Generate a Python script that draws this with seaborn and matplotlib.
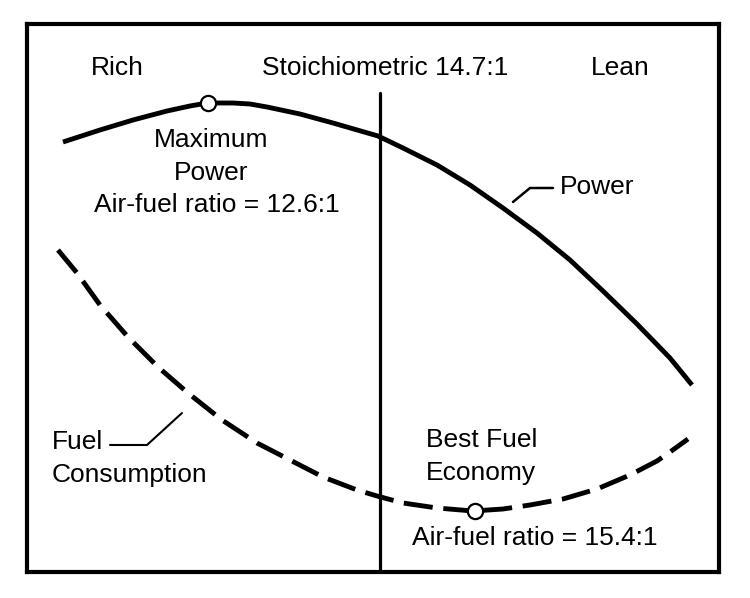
import matplotlib
matplotlib.use("Agg")
import matplotlib.pyplot as plt
import seaborn as sns
import pandas as pd

# Curve values (chart units: x to the right, y measured downward from top of frame)
power_x = [63, 100, 133, 167, 190, 207, 233, 250, 267, 300, 333, 378, 403, 437, 470, 503, 537, 570, 603, 637, 670, 692]
power_y = [142, 130, 120, 111, 106, 103, 103, 104, 107, 114, 123, 136, 148, 165, 185, 208, 233, 260, 291, 324, 358, 385]

fuel_x = [58, 77, 100, 128, 158, 188, 222, 257, 290, 323, 357, 377, 403, 437, 473, 503, 530, 563, 597, 630, 657, 670, 688]
fuel_y = [250, 273, 305, 337, 367, 393, 420, 443, 460, 477, 490, 496, 503, 508, 511, 509, 505, 499, 489, 475, 461, 452, 439]

# Highlighted points
max_power = (208, 103)
best_economy = (475, 511)
stoich_x = 380

region_labels = ["Rich", "Stoichiometric 14.7:1", "Lean"]
region_x = [117, 385, 620]

sns.set_style("white")
plt.rcParams["font.family"] = ["Liberation Sans", "DejaVu Sans"]
plt.rcParams["text.color"] = "black"

fig = plt.figure(figsize=(7.5, 5.98), dpi=100)
ax = fig.add_axes([27 / 750, (598 - 572) / 598, 691.5 / 750, 548 / 598])

power_df = pd.DataFrame({"x": power_x, "y": power_y})
fuel_df = pd.DataFrame({"x": fuel_x, "y": fuel_y})

sns.lineplot(data=power_df, x="x", y="y", ax=ax, color="black", linewidth=3.5,
             solid_capstyle="butt", solid_joinstyle="round")
sns.lineplot(data=fuel_df, x="x", y="y", ax=ax, color="black", linewidth=3.5,
             linestyle=(0, (6.0, 2.2)), dash_capstyle="butt", dash_joinstyle="round")

ax.plot([stoich_x, stoich_x], [93, 572], color="black", linewidth=2.3)

sns.scatterplot(x=[max_power[0], best_economy[0]], y=[max_power[1], best_economy[1]], ax=ax,
                s=120, facecolor="white", edgecolor="black", linewidth=1.6, zorder=5)

fs = 19
for lab, xx in zip(region_labels, region_x):
    ax.text(xx, 68, lab, ha="center", va="center", fontsize=fs, color="black")

ax.text(211, 140, "Maximum", ha="center", va="center", fontsize=fs, color="black")
ax.text(211, 173, "Power", ha="center", va="center", fontsize=fs, color="black")
ax.text(217, 205, "Air-fuel ratio = 12.6:1", ha="center", va="center", fontsize=fs, color="black")

ax.text(426, 440, "Best Fuel", ha="left", va="center", fontsize=fs, color="black")
ax.text(426, 473, "Economy", ha="left", va="center", fontsize=fs, color="black")
ax.text(535, 538, "Air-fuel ratio = 15.4:1", ha="center", va="center", fontsize=fs, color="black")

ax.text(52, 442, "Fuel", ha="left", va="center", fontsize=fs, color="black")
ax.text(52, 475, "Consumption", ha="left", va="center", fontsize=fs, color="black")
ax.plot([182, 147, 110], [413, 445, 445], color="black", linewidth=1.5)

ax.text(560, 187, "Power", ha="left", va="center", fontsize=fs, color="black")
ax.plot([513, 530, 553], [202, 188, 188], color="black", linewidth=1.8)

ax.set_xlim(27, 718.5)
ax.set_ylim(572, 24)
ax.set_xticks([])
ax.set_yticks([])
ax.set_xlabel("")
ax.set_ylabel("")
for sp in ax.spines.values():
    sp.set_visible(True)
    sp.set_color("black")
    sp.set_linewidth(3.0)

fig.savefig("out.png", dpi=100, facecolor="white")
